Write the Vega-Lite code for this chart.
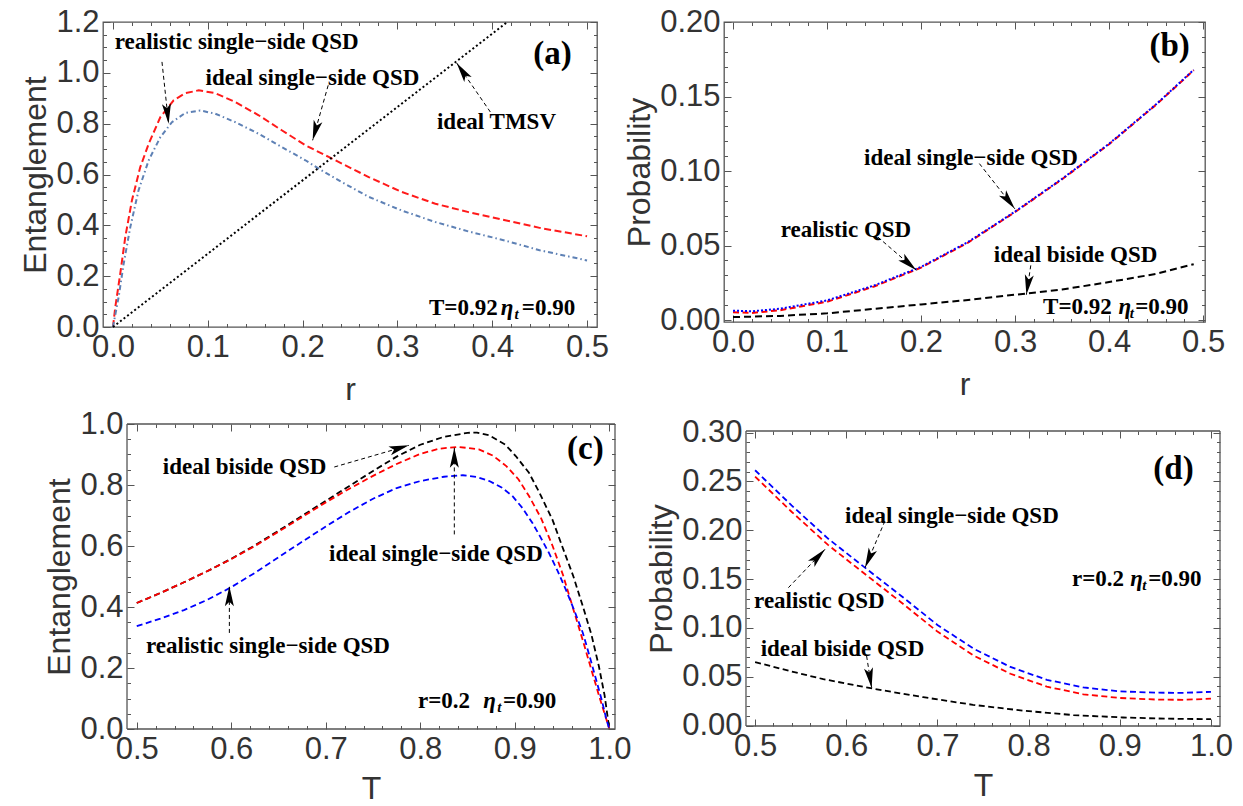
{
"$schema":"https://vega.github.io/schema/vega-lite/v6.json",
"padding":{"left":11,"top":0,"right":5,"bottom":0},
"config":{
 "view":{"stroke":"#555","strokeWidth":1.3},
 "axis":{"domain":false,"grid":false,"labelFlush":false,"labelOverlap":false,"tickColor":"#555","tickWidth":1,"labelFont":"Liberation Sans","labelFontSize":31,"labelColor":"#333","titleFont":"Liberation Sans","titleFontSize":32,"titleFontWeight":"normal","titleColor":"#333"},
 "text":{"font":"Liberation Serif","fontWeight":"bold","fontSize":23,"color":"#000"}
},
"datasets":{
 "a_lines":[
  {"x":0,"y":0,"s":"real"},{"x":0.0025,"y":0.079,"s":"real"},{"x":0.0077,"y":0.21,"s":"real"},{"x":0.013,"y":0.354,"s":"real"},{"x":0.02,"y":0.498,"s":"real"},{"x":0.0288,"y":0.629,"s":"real"},{"x":0.0377,"y":0.721,"s":"real"},{"x":0.05,"y":0.826,"s":"real"},{"x":0.064,"y":0.892,"s":"real"},{"x":0.0763,"y":0.92,"s":"real"},{"x":0.0904,"y":0.931,"s":"real"},{"x":0.108,"y":0.92,"s":"real"},{"x":0.129,"y":0.885,"s":"real"},{"x":0.1537,"y":0.833,"s":"real"},{"x":0.178,"y":0.774,"s":"real"},{"x":0.203,"y":0.715,"s":"real"},{"x":0.2275,"y":0.669,"s":"real"},{"x":0.2697,"y":0.59,"s":"real"},{"x":0.3048,"y":0.531,"s":"real"},{"x":0.34,"y":0.485,"s":"real"},{"x":0.375,"y":0.452,"s":"real"},{"x":0.4137,"y":0.42,"s":"real"},{"x":0.45,"y":0.39,"s":"real"},{"x":0.5,"y":0.357,"s":"real"},
  {"x":0,"y":0,"s":"ideal"},{"x":0.006,"y":0.118,"s":"ideal"},{"x":0.0113,"y":0.249,"s":"ideal"},{"x":0.0183,"y":0.393,"s":"ideal"},{"x":0.027,"y":0.538,"s":"ideal"},{"x":0.0377,"y":0.656,"s":"ideal"},{"x":0.05,"y":0.747,"s":"ideal"},{"x":0.0622,"y":0.806,"s":"ideal"},{"x":0.0763,"y":0.842,"s":"ideal"},{"x":0.092,"y":0.852,"s":"ideal"},{"x":0.108,"y":0.839,"s":"ideal"},{"x":0.129,"y":0.806,"s":"ideal"},{"x":0.1537,"y":0.76,"s":"ideal"},{"x":0.178,"y":0.708,"s":"ideal"},{"x":0.203,"y":0.656,"s":"ideal"},{"x":0.217,"y":0.623,"s":"ideal"},{"x":0.2415,"y":0.57,"s":"ideal"},{"x":0.2697,"y":0.512,"s":"ideal"},{"x":0.3048,"y":0.458,"s":"ideal"},{"x":0.34,"y":0.413,"s":"ideal"},{"x":0.375,"y":0.376,"s":"ideal"},{"x":0.4137,"y":0.34,"s":"ideal"},{"x":0.45,"y":0.302,"s":"ideal"},{"x":0.5,"y":0.262,"s":"ideal"},
  {"x":0,"y":0,"s":"tmsv"},{"x":0.2,"y":0.577,"s":"tmsv"},{"x":0.4159,"y":1.2,"s":"tmsv"}
 ],
 "b_lines":[
  {"x":0,"y":0.0052,"s":"real"},{"x":0.02,"y":0.0048,"s":"real"},{"x":0.05,"y":0.0066,"s":"real"},{"x":0.1,"y":0.0123,"s":"real"},{"x":0.15,"y":0.0225,"s":"real"},{"x":0.2,"y":0.0352,"s":"real"},{"x":0.25,"y":0.052,"s":"real"},{"x":0.3,"y":0.0725,"s":"real"},{"x":0.35,"y":0.0945,"s":"real"},{"x":0.4,"y":0.118,"s":"real"},{"x":0.45,"y":0.1445,"s":"real"},{"x":0.49,"y":0.1676,"s":"real"},
  {"x":0,"y":0.0063,"s":"ideal"},{"x":0.02,"y":0.0059,"s":"ideal"},{"x":0.05,"y":0.0076,"s":"ideal"},{"x":0.1,"y":0.0132,"s":"ideal"},{"x":0.15,"y":0.0232,"s":"ideal"},{"x":0.2,"y":0.0357,"s":"ideal"},{"x":0.25,"y":0.0524,"s":"ideal"},{"x":0.3,"y":0.0728,"s":"ideal"},{"x":0.35,"y":0.0948,"s":"ideal"},{"x":0.4,"y":0.1183,"s":"ideal"},{"x":0.45,"y":0.1448,"s":"ideal"},{"x":0.49,"y":0.1679,"s":"ideal"},
  {"x":0,"y":0.002,"s":"biside"},{"x":0.05,"y":0.0028,"s":"biside"},{"x":0.1,"y":0.0045,"s":"biside"},{"x":0.15,"y":0.0075,"s":"biside"},{"x":0.2,"y":0.0105,"s":"biside"},{"x":0.25,"y":0.0135,"s":"biside"},{"x":0.3,"y":0.017,"s":"biside"},{"x":0.35,"y":0.0205,"s":"biside"},{"x":0.4,"y":0.0255,"s":"biside"},{"x":0.45,"y":0.031,"s":"biside"},{"x":0.49,"y":0.0375,"s":"biside"}
 ],
 "c_lines":[
  {"x":0.5,"y":0.413,"s":"biside"},{"x":0.525,"y":0.446,"s":"biside"},{"x":0.55,"y":0.481,"s":"biside"},{"x":0.575,"y":0.518,"s":"biside"},{"x":0.6,"y":0.558,"s":"biside"},{"x":0.625,"y":0.602,"s":"biside"},{"x":0.65,"y":0.65,"s":"biside"},{"x":0.675,"y":0.699,"s":"biside"},{"x":0.7,"y":0.748,"s":"biside"},{"x":0.725,"y":0.797,"s":"biside"},{"x":0.75,"y":0.846,"s":"biside"},{"x":0.775,"y":0.893,"s":"biside"},{"x":0.8,"y":0.932,"s":"biside"},{"x":0.825,"y":0.958,"s":"biside"},{"x":0.85,"y":0.971,"s":"biside"},{"x":0.86,"y":0.972,"s":"biside"},{"x":0.873,"y":0.963,"s":"biside"},{"x":0.89,"y":0.932,"s":"biside"},{"x":0.901,"y":0.895,"s":"biside"},{"x":0.915,"y":0.84,"s":"biside"},{"x":0.926,"y":0.775,"s":"biside"},{"x":0.94,"y":0.685,"s":"biside"},{"x":0.95,"y":0.6,"s":"biside"},{"x":0.962,"y":0.5,"s":"biside"},{"x":0.972,"y":0.402,"s":"biside"},{"x":0.981,"y":0.31,"s":"biside"},{"x":0.989,"y":0.205,"s":"biside"},{"x":0.995,"y":0.11,"s":"biside"},{"x":1.0,"y":0.0,"s":"biside"},
  {"x":0.5,"y":0.413,"s":"ideal"},{"x":0.525,"y":0.446,"s":"ideal"},{"x":0.55,"y":0.481,"s":"ideal"},{"x":0.575,"y":0.518,"s":"ideal"},{"x":0.6,"y":0.557,"s":"ideal"},{"x":0.625,"y":0.6,"s":"ideal"},{"x":0.65,"y":0.647,"s":"ideal"},{"x":0.675,"y":0.695,"s":"ideal"},{"x":0.7,"y":0.743,"s":"ideal"},{"x":0.725,"y":0.788,"s":"ideal"},{"x":0.75,"y":0.83,"s":"ideal"},{"x":0.775,"y":0.869,"s":"ideal"},{"x":0.8,"y":0.902,"s":"ideal"},{"x":0.82,"y":0.919,"s":"ideal"},{"x":0.84,"y":0.925,"s":"ideal"},{"x":0.862,"y":0.917,"s":"ideal"},{"x":0.877,"y":0.896,"s":"ideal"},{"x":0.891,"y":0.862,"s":"ideal"},{"x":0.904,"y":0.818,"s":"ideal"},{"x":0.915,"y":0.764,"s":"ideal"},{"x":0.928,"y":0.69,"s":"ideal"},{"x":0.94,"y":0.6,"s":"ideal"},{"x":0.951,"y":0.505,"s":"ideal"},{"x":0.961,"y":0.402,"s":"ideal"},{"x":0.972,"y":0.29,"s":"ideal"},{"x":0.982,"y":0.184,"s":"ideal"},{"x":0.99,"y":0.1,"s":"ideal"},{"x":0.997,"y":0.03,"s":"ideal"},{"x":1.0,"y":0.0,"s":"ideal"},
  {"x":0.5,"y":0.337,"s":"real"},{"x":0.525,"y":0.362,"s":"real"},{"x":0.55,"y":0.39,"s":"real"},{"x":0.575,"y":0.424,"s":"real"},{"x":0.6,"y":0.465,"s":"real"},{"x":0.625,"y":0.512,"s":"real"},{"x":0.65,"y":0.563,"s":"real"},{"x":0.675,"y":0.614,"s":"real"},{"x":0.7,"y":0.664,"s":"real"},{"x":0.725,"y":0.712,"s":"real"},{"x":0.75,"y":0.755,"s":"real"},{"x":0.775,"y":0.79,"s":"real"},{"x":0.8,"y":0.813,"s":"real"},{"x":0.825,"y":0.827,"s":"real"},{"x":0.845,"y":0.832,"s":"real"},{"x":0.86,"y":0.826,"s":"real"},{"x":0.873,"y":0.813,"s":"real"},{"x":0.886,"y":0.792,"s":"real"},{"x":0.8974,"y":0.764,"s":"real"},{"x":0.908,"y":0.725,"s":"real"},{"x":0.9185,"y":0.676,"s":"real"},{"x":0.927,"y":0.63,"s":"real"},{"x":0.936,"y":0.578,"s":"real"},{"x":0.945,"y":0.52,"s":"real"},{"x":0.954,"y":0.457,"s":"real"},{"x":0.963,"y":0.388,"s":"real"},{"x":0.972,"y":0.315,"s":"real"},{"x":0.979,"y":0.24,"s":"real"},{"x":0.986,"y":0.162,"s":"real"},{"x":0.992,"y":0.095,"s":"real"},{"x":0.997,"y":0.03,"s":"real"},{"x":1.0,"y":0.0,"s":"real"}
 ],
 "d_lines":[
  {"x":0.5,"y":0.2615,"s":"ideal"},{"x":0.54,"y":0.2255,"s":"ideal"},{"x":0.58,"y":0.1915,"s":"ideal"},{"x":0.6205,"y":0.1617,"s":"ideal"},{"x":0.66,"y":0.133,"s":"ideal"},{"x":0.7,"y":0.103,"s":"ideal"},{"x":0.74,"y":0.0785,"s":"ideal"},{"x":0.78,"y":0.06,"s":"ideal"},{"x":0.82,"y":0.0468,"s":"ideal"},{"x":0.86,"y":0.039,"s":"ideal"},{"x":0.9,"y":0.035,"s":"ideal"},{"x":0.94,"y":0.0336,"s":"ideal"},{"x":0.97,"y":0.0335,"s":"ideal"},{"x":1.0,"y":0.0345,"s":"ideal"},
  {"x":0.5,"y":0.255,"s":"real"},{"x":0.54,"y":0.219,"s":"real"},{"x":0.58,"y":0.185,"s":"real"},{"x":0.6205,"y":0.1552,"s":"real"},{"x":0.66,"y":0.1263,"s":"real"},{"x":0.7,"y":0.0962,"s":"real"},{"x":0.74,"y":0.0715,"s":"real"},{"x":0.78,"y":0.053,"s":"real"},{"x":0.82,"y":0.0398,"s":"real"},{"x":0.86,"y":0.032,"s":"real"},{"x":0.9,"y":0.0282,"s":"real"},{"x":0.94,"y":0.0266,"s":"real"},{"x":0.97,"y":0.0263,"s":"real"},{"x":1.0,"y":0.0275,"s":"real"},
  {"x":0.5,"y":0.065,"s":"biside"},{"x":0.538,"y":0.0558,"s":"biside"},{"x":0.5748,"y":0.0475,"s":"biside"},{"x":0.6296,"y":0.0377,"s":"biside"},{"x":0.6844,"y":0.029,"s":"biside"},{"x":0.739,"y":0.0212,"s":"biside"},{"x":0.794,"y":0.0152,"s":"biside"},{"x":0.849,"y":0.0107,"s":"biside"},{"x":0.9035,"y":0.0082,"s":"biside"},{"x":0.95,"y":0.007,"s":"biside"},{"x":1.0,"y":0.0065,"s":"biside"}
 ],
 "a_arrows":[{"x":0.0517,"y":1.043,"x2":0.0587,"y2":0.80},{"x":0.227,"y":0.951,"x2":0.2106,"y2":0.7345},{"x":0.398,"y":0.846,"x2":0.3625,"y2":1.0386}],
 "b_arrows":[{"x":0.262,"y":0.105,"x2":0.2997,"y2":0.0747},{"x":0.154,"y":0.0557,"x2":0.195,"y2":0.0334},{"x":0.3167,"y":0.0367,"x2":0.312,"y2":0.017}],
 "c_arrows":[{"x":0.709,"y":0.859,"x2":0.788,"y2":0.93},{"x":0.836,"y":0.638,"x2":0.836,"y2":0.922},{"x":0.598,"y":0.315,"x2":0.598,"y2":0.468}],
 "d_arrows":[{"x":0.6424,"y":0.2095,"x2":0.6205,"y2":0.1617},{"x":0.5365,"y":0.1412,"x2":0.5767,"y2":0.1805},{"x":0.6223,"y":0.0712,"x2":0.6278,"y2":0.0387}],
 "c_frame":[{"x":0.4897,"y":0,"x2":1.006,"y2":0},{"x":0.4897,"y":1.0,"x2":1.006,"y2":1.0},{"x":0.4897,"y":0,"x2":0.4897,"y2":1.0},{"x":1.006,"y":0,"x2":1.006,"y2":1.0}],
 "d_frame":[{"x":0.49,"y":-0.0005,"x2":1.0099,"y2":-0.0005},{"x":0.49,"y":0.3017,"x2":1.0099,"y2":0.3017},{"x":0.49,"y":-0.0005,"x2":0.49,"y2":0.3017},{"x":1.0099,"y":-0.0005,"x2":1.0099,"y2":0.3017}]
},
"resolve":{"scale":{"color":"independent","strokeDash":"independent"}},
"columns":2,
"align":"none",
"spacing":{"row":2,"column":-33},
"concat":[
   {"width":494,"height":305,
    "resolve":{"axis":{"x":"independent","y":"independent"}},
    "layer":[
     {"data":{"name":"a_lines"},"mark":{"type":"line","strokeWidth":2},
      "encoding":{
       "x":{"field":"x","type":"quantitative","scale":{"domain":[-0.0105,0.5105],"nice":false,"zero":false},"axis":{"orient":"bottom","values":[0,0.1,0.2,0.3,0.4,0.5],"format":".1f","ticks":false,"tickSize":0,"labelPadding":5,"title":"r","titlePadding":12}},
       "y":{"field":"y","type":"quantitative","scale":{"domain":[0,1.2],"nice":false,"zero":false},"axis":{"orient":"left","values":[0,0.2,0.4,0.6,0.8,1.0,1.2],"format":".1f","ticks":false,"tickSize":0,"labelPadding":4,"title":"Entanglement","titlePadding":3.5}},
       "color":{"field":"s","type":"nominal","scale":{"domain":["real","ideal","tmsv"],"range":["#ff1a1a","#5e81b5","#000000"]},"legend":null},
       "strokeDash":{"field":"s","type":"nominal","scale":{"domain":["real","ideal","tmsv"],"range":[[7,3.5],[5,3,1.5,3],[2,2.5]]},"legend":null}}},
     {"data":{"name":"a_arrows"},"mark":{"type":"rule","color":"#000","strokeWidth":1,"strokeDash":[4,3]},
      "encoding":{
       "x":{"field":"x","type":"quantitative","scale":{"domain":[-0.0105,0.5105],"nice":false,"zero":false},"axis":{"orient":"bottom","values":[0,0.1,0.2,0.3,0.4,0.5],"labels":false,"tickSize":-7,"title":null}},
       "x2":{"field":"x2"},
       "y":{"field":"y","type":"quantitative","scale":{"domain":[0,1.2],"nice":false,"zero":false},"axis":{"orient":"left","values":[0,0.2,0.4,0.6,0.8,1.0,1.2],"labels":false,"tickSize":-7,"title":null}},
       "y2":{"field":"y2"}}},
     {"data":{"values":[{"x":0.0587,"y":0.80}]},"mark":{"type":"point","shape":"M0,0L0.45,2L0,1.55L-0.45,2Z","size":400,"filled":true,"color":"#000","opacity":1,"angle":173.8},
      "encoding":{
       "x":{"field":"x","type":"quantitative","scale":{"domain":[-0.0105,0.5105],"nice":false,"zero":false},"axis":{"orient":"bottom","values":[0.02,0.04,0.06,0.08,0.12,0.14,0.16,0.18,0.22,0.24,0.26,0.28,0.32,0.34,0.36,0.38,0.42,0.44,0.46,0.48],"labels":false,"tickSize":-3.5,"title":null}},
       "y":{"field":"y","type":"quantitative","scale":{"domain":[0,1.2],"nice":false,"zero":false},"axis":{"orient":"left","values":[0.05,0.1,0.15,0.25,0.3,0.35,0.45,0.5,0.55,0.65,0.7,0.75,0.85,0.9,0.95,1.05,1.1,1.15],"labels":false,"tickSize":-3.5,"title":".","titleColor":"#ffffff","titleFontSize":10,"titlePadding":80}}}},
     {"data":{"values":[{"x":0.2106,"y":0.7345}]},"mark":{"type":"point","shape":"M0,0L0.45,2L0,1.55L-0.45,2Z","size":400,"filled":true,"color":"#000","opacity":1,"angle":195.7},
      "encoding":{
       "x":{"field":"x","type":"quantitative","scale":{"domain":[-0.0105,0.5105],"nice":false,"zero":false},"axis":{"orient":"top","values":[0,0.1,0.2,0.3,0.4,0.5],"labels":false,"tickSize":-7,"title":null}},
       "y":{"field":"y","type":"quantitative","scale":{"domain":[0,1.2],"nice":false,"zero":false},"axis":{"orient":"right","values":[0,0.2,0.4,0.6,0.8,1.0,1.2],"labels":false,"tickSize":-7,"title":null}}}},
     {"data":{"values":[{"x":0.3625,"y":1.0386}]},"mark":{"type":"point","shape":"M0,0L0.45,2L0,1.55L-0.45,2Z","size":400,"filled":true,"color":"#000","opacity":1,"angle":325.5},
      "encoding":{
       "x":{"field":"x","type":"quantitative","scale":{"domain":[-0.0105,0.5105],"nice":false,"zero":false},"axis":{"orient":"top","values":[0.02,0.04,0.06,0.08,0.12,0.14,0.16,0.18,0.22,0.24,0.26,0.28,0.32,0.34,0.36,0.38,0.42,0.44,0.46,0.48],"labels":false,"tickSize":-3.5,"title":null}},
       "y":{"field":"y","type":"quantitative","scale":{"domain":[0,1.2],"nice":false,"zero":false},"axis":{"orient":"right","values":[0.05,0.1,0.15,0.25,0.3,0.35,0.45,0.5,0.55,0.65,0.7,0.75,0.85,0.9,0.95,1.05,1.1,1.15],"labels":false,"tickSize":-3.5,"title":".","titleColor":"#ffffff","titleFontSize":10,"titlePadding":36}}}},
     {"data":{"values":[{"x":0.0018,"y":1.0948,"t":"realistic single−side QSD"},{"x":0.0977,"y":0.951,"t":"ideal single−side QSD"},{"x":0.3417,"y":0.78,"t":"ideal TMSV"},{"x":0.3333,"y":0.046,"t":"T=0.92"},{"x":0.4312,"y":0.046,"t":"=0.90"}]},
      "mark":{"type":"text","align":"left","baseline":"alphabetic"},
      "encoding":{"x":{"field":"x","type":"quantitative","scale":{"domain":[-0.0105,0.5105],"nice":false,"zero":false},"axis":null},"y":{"field":"y","type":"quantitative","scale":{"domain":[0,1.2],"nice":false,"zero":false},"axis":null},"text":{"field":"t"}}},
     {"data":{"values":[{"x":0.409,"y":0.046}]},"mark":{"type":"text","align":"left","baseline":"alphabetic","fontStyle":"italic","text":"η"},
      "encoding":{"x":{"field":"x","type":"quantitative","scale":{"domain":[-0.0105,0.5105],"nice":false,"zero":false},"axis":null},"y":{"field":"y","type":"quantitative","scale":{"domain":[0,1.2],"nice":false,"zero":false},"axis":null}}},
     {"data":{"values":[{"x":0.4235,"y":0.0303}]},"mark":{"type":"text","align":"left","baseline":"alphabetic","fontStyle":"italic","fontSize":15,"text":"t"},
      "encoding":{"x":{"field":"x","type":"quantitative","scale":{"domain":[-0.0105,0.5105],"nice":false,"zero":false},"axis":null},"y":{"field":"y","type":"quantitative","scale":{"domain":[0,1.2],"nice":false,"zero":false},"axis":null}}},
     {"data":{"values":[{"x":0.4635,"y":1.035}]},"mark":{"type":"text","align":"center","baseline":"alphabetic","fontSize":33,"text":"(a)"},
      "encoding":{"x":{"field":"x","type":"quantitative","scale":{"domain":[-0.0105,0.5105],"nice":false,"zero":false},"axis":null},"y":{"field":"y","type":"quantitative","scale":{"domain":[0,1.2],"nice":false,"zero":false},"axis":null}}}
    ]},
   {"width":481,"height":300,
    "resolve":{"axis":{"x":"independent","y":"independent"}},
    "layer":[
     {"data":{"name":"b_lines"},"mark":{"type":"line","strokeWidth":2},
      "encoding":{
       "x":{"field":"x","type":"quantitative","scale":{"domain":[-0.0096,0.502],"nice":false,"zero":false},"axis":{"orient":"bottom","values":[0,0.1,0.2,0.3,0.4,0.5],"format":".1f","ticks":false,"tickSize":0,"labelPadding":5,"title":"r","titlePadding":12}},
       "y":{"field":"y","type":"quantitative","scale":{"domain":[-0.0013,0.2],"nice":false,"zero":false},"axis":{"orient":"left","values":[0,0.05,0.1,0.15,0.2],"format":".2f","ticks":false,"tickSize":0,"labelPadding":4,"title":"Probability","titlePadding":3.5}},
       "color":{"field":"s","type":"nominal","scale":{"domain":["real","ideal","biside"],"range":["#ff0000","#0000ff","#000000"]},"legend":null},
       "strokeDash":{"field":"s","type":"nominal","scale":{"domain":["real","ideal","biside"],"range":[[6,3.5],[2,2],[7,4]]},"legend":null}}},
     {"data":{"name":"b_arrows"},"mark":{"type":"rule","color":"#000","strokeWidth":1,"strokeDash":[4,3]},
      "encoding":{
       "x":{"field":"x","type":"quantitative","scale":{"domain":[-0.0096,0.502],"nice":false,"zero":false},"axis":{"orient":"bottom","values":[0,0.1,0.2,0.3,0.4,0.5],"labels":false,"tickSize":-7,"title":null}},
       "x2":{"field":"x2"},
       "y":{"field":"y","type":"quantitative","scale":{"domain":[-0.0013,0.2],"nice":false,"zero":false},"axis":{"orient":"left","values":[0,0.05,0.1,0.15,0.2],"labels":false,"tickSize":-7,"title":null}},
       "y2":{"field":"y2"}}},
     {"data":{"values":[{"x":0.2997,"y":0.0747}]},"mark":{"type":"point","shape":"M0,0L0.45,2L0,1.55L-0.45,2Z","size":400,"filled":true,"color":"#000","opacity":1,"angle":142.1},
      "encoding":{
       "x":{"field":"x","type":"quantitative","scale":{"domain":[-0.0096,0.502],"nice":false,"zero":false},"axis":{"orient":"bottom","values":[0.02,0.04,0.06,0.08,0.12,0.14,0.16,0.18,0.22,0.24,0.26,0.28,0.32,0.34,0.36,0.38,0.42,0.44,0.46,0.48],"labels":false,"tickSize":-3.5,"title":null}},
       "y":{"field":"y","type":"quantitative","scale":{"domain":[-0.0013,0.2],"nice":false,"zero":false},"axis":{"orient":"left","values":[0.01,0.02,0.03,0.04,0.06,0.07,0.08,0.09,0.11,0.12,0.13,0.14,0.16,0.17,0.18,0.19],"labels":false,"tickSize":-3.5,"title":".","titleColor":"#ffffff","titleFontSize":10,"titlePadding":100}}}},
     {"data":{"values":[{"x":0.195,"y":0.0334}]},"mark":{"type":"point","shape":"M0,0L0.45,2L0,1.55L-0.45,2Z","size":400,"filled":true,"color":"#000","opacity":1,"angle":131},
      "encoding":{
       "x":{"field":"x","type":"quantitative","scale":{"domain":[-0.0096,0.502],"nice":false,"zero":false},"axis":{"orient":"top","values":[0,0.1,0.2,0.3,0.4,0.5],"labels":false,"tickSize":-7,"title":".","titleColor":"#ffffff","titleFontSize":10,"titlePadding":10.5}},
       "y":{"field":"y","type":"quantitative","scale":{"domain":[-0.0013,0.2],"nice":false,"zero":false},"axis":{"orient":"right","values":[0,0.05,0.1,0.15,0.2],"labels":false,"tickSize":-7,"title":null}}}},
     {"data":{"values":[{"x":0.312,"y":0.017}]},"mark":{"type":"point","shape":"M0,0L0.45,2L0,1.55L-0.45,2Z","size":400,"filled":true,"color":"#000","opacity":1,"angle":188.5},
      "encoding":{
       "x":{"field":"x","type":"quantitative","scale":{"domain":[-0.0096,0.502],"nice":false,"zero":false},"axis":{"orient":"top","values":[0.02,0.04,0.06,0.08,0.12,0.14,0.16,0.18,0.22,0.24,0.26,0.28,0.32,0.34,0.36,0.38,0.42,0.44,0.46,0.48],"labels":false,"tickSize":-3.5,"title":null}},
       "y":{"field":"y","type":"quantitative","scale":{"domain":[-0.0013,0.2],"nice":false,"zero":false},"axis":{"orient":"right","values":[0.01,0.02,0.03,0.04,0.06,0.07,0.08,0.09,0.11,0.12,0.13,0.14,0.16,0.17,0.18,0.19],"labels":false,"tickSize":-3.5,"title":null}}}},
     {"data":{"values":[{"x":0.1394,"y":0.1038,"t":"ideal single−side QSD"},{"x":0.0507,"y":0.0557,"t":"realistic QSD"},{"x":0.2773,"y":0.0389,"t":"ideal biside QSD"},{"x":0.3298,"y":0.0042,"t":"T=0.92"},{"x":0.4277,"y":0.0042,"t":"=0.90"}]},
      "mark":{"type":"text","align":"left","baseline":"alphabetic"},
      "encoding":{"x":{"field":"x","type":"quantitative","scale":{"domain":[-0.0096,0.502],"nice":false,"zero":false},"axis":null},"y":{"field":"y","type":"quantitative","scale":{"domain":[-0.0013,0.2],"nice":false,"zero":false},"axis":null},"text":{"field":"t"}}},
     {"data":{"values":[{"x":0.41,"y":0.0042}]},"mark":{"type":"text","align":"left","baseline":"alphabetic","fontStyle":"italic","text":"η"},
      "encoding":{"x":{"field":"x","type":"quantitative","scale":{"domain":[-0.0096,0.502],"nice":false,"zero":false},"axis":null},"y":{"field":"y","type":"quantitative","scale":{"domain":[-0.0013,0.2],"nice":false,"zero":false},"axis":null}}},
     {"data":{"values":[{"x":0.4219,"y":0.0015}]},"mark":{"type":"text","align":"left","baseline":"alphabetic","fontStyle":"italic","fontSize":15,"text":"t"},
      "encoding":{"x":{"field":"x","type":"quantitative","scale":{"domain":[-0.0096,0.502],"nice":false,"zero":false},"axis":null},"y":{"field":"y","type":"quantitative","scale":{"domain":[-0.0013,0.2],"nice":false,"zero":false},"axis":null}}},
     {"data":{"values":[{"x":0.4644,"y":0.1772}]},"mark":{"type":"text","align":"center","baseline":"alphabetic","fontSize":33,"text":"(b)"},
      "encoding":{"x":{"field":"x","type":"quantitative","scale":{"domain":[-0.0096,0.502],"nice":false,"zero":false},"axis":null},"y":{"field":"y","type":"quantitative","scale":{"domain":[-0.0013,0.2],"nice":false,"zero":false},"axis":null}}}
    ]},
   {"width":512,"height":305,"view":{"stroke":null},
    "resolve":{"axis":{"x":"independent","y":"independent"}},
    "layer":[
     {"data":{"name":"c_lines"},"mark":{"type":"line","strokeWidth":1.8},
      "encoding":{
       "x":{"field":"x","type":"quantitative","scale":{"domain":[0.4643,1.006],"nice":false,"zero":false},"axis":{"orient":"bottom","values":[0.5,0.6,0.7,0.8,0.9,1.0],"format":".1f","ticks":false,"tickSize":0,"labelPadding":5,"title":"T","titlePadding":9,"titleX":268}},
       "y":{"field":"y","type":"quantitative","scale":{"domain":[0,1.0],"nice":false,"zero":false},"axis":{"orient":"left","offset":-24,"values":[0,0.2,0.4,0.6,0.8,1.0],"format":".1f","ticks":false,"tickSize":0,"labelPadding":4,"title":"Entanglement","titlePadding":3.5}},
       "color":{"field":"s","type":"nominal","scale":{"domain":["biside","ideal","real"],"range":["#000000","#ff0000","#0000ff"]},"legend":null},
       "strokeDash":{"field":"s","type":"nominal","scale":{"domain":["biside","ideal","real"],"range":[[6,3.5],[6,3.5],[6,3.5]]},"legend":null}}},
     {"data":{"name":"c_frame"},"mark":{"type":"rule","color":"#555","strokeWidth":1.3},
      "encoding":{
       "x":{"field":"x","type":"quantitative","scale":{"domain":[0.4643,1.006],"nice":false,"zero":false},"axis":null},
       "x2":{"field":"x2"},
       "y":{"field":"y","type":"quantitative","scale":{"domain":[0,1.0],"nice":false,"zero":false},"axis":{"orient":"left","labels":false,"ticks":false,"title":".","titleColor":"#ffffff","titleFontSize":10,"titlePadding":80}},
       "y2":{"field":"y2"}}},
     {"data":{"name":"c_arrows"},"mark":{"type":"rule","color":"#000","strokeWidth":1,"strokeDash":[4,3]},
      "encoding":{
       "x":{"field":"x","type":"quantitative","scale":{"domain":[0.4643,1.006],"nice":false,"zero":false},"axis":{"orient":"bottom","values":[0.5,0.6,0.7,0.8,0.9,1.0],"labels":false,"tickSize":-7,"title":null}},
       "x2":{"field":"x2"},
       "y":{"field":"y","type":"quantitative","scale":{"domain":[0,1.0],"nice":false,"zero":false},"axis":{"orient":"left","offset":-24,"values":[0,0.2,0.4,0.6,0.8,1.0],"labels":false,"tickSize":-7,"title":null}},
       "y2":{"field":"y2"}}},
     {"data":{"values":[{"x":0.788,"y":0.93}]},"mark":{"type":"point","shape":"M0,0L0.45,2L0,1.55L-0.45,2Z","size":400,"filled":true,"color":"#000","opacity":1,"angle":73.9},
      "encoding":{
       "x":{"field":"x","type":"quantitative","scale":{"domain":[0.4643,1.006],"nice":false,"zero":false},"axis":{"orient":"bottom","values":[0.52,0.54,0.56,0.58,0.62,0.64,0.66,0.68,0.72,0.74,0.76,0.78,0.82,0.84,0.86,0.88,0.92,0.94,0.96,0.98],"labels":false,"tickSize":-3.5,"title":null}},
       "y":{"field":"y","type":"quantitative","scale":{"domain":[0,1.0],"nice":false,"zero":false},"axis":{"orient":"left","offset":-24,"values":[0.05,0.1,0.15,0.25,0.3,0.35,0.45,0.5,0.55,0.65,0.7,0.75,0.85,0.9,0.95],"labels":false,"tickSize":-3.5,"title":null}}}},
     {"data":{"values":[{"x":0.836,"y":0.922}]},"mark":{"type":"point","shape":"M0,0L0.45,2L0,1.55L-0.45,2Z","size":400,"filled":true,"color":"#000","opacity":1,"angle":0},
      "encoding":{
       "x":{"field":"x","type":"quantitative","scale":{"domain":[0.4643,1.006],"nice":false,"zero":false},"axis":{"orient":"top","values":[0.5,0.6,0.7,0.8,0.9,1.0],"labels":false,"tickSize":-7,"title":null}},
       "y":{"field":"y","type":"quantitative","scale":{"domain":[0,1.0],"nice":false,"zero":false},"axis":{"orient":"right","values":[0,0.2,0.4,0.6,0.8,1.0],"labels":false,"tickSize":-7,"title":null}}}},
     {"data":{"values":[{"x":0.598,"y":0.468}]},"mark":{"type":"point","shape":"M0,0L0.45,2L0,1.55L-0.45,2Z","size":400,"filled":true,"color":"#000","opacity":1,"angle":0},
      "encoding":{
       "x":{"field":"x","type":"quantitative","scale":{"domain":[0.4643,1.006],"nice":false,"zero":false},"axis":{"orient":"top","values":[0.52,0.54,0.56,0.58,0.62,0.64,0.66,0.68,0.72,0.74,0.76,0.78,0.82,0.84,0.86,0.88,0.92,0.94,0.96,0.98],"labels":false,"tickSize":-3.5,"title":null}},
       "y":{"field":"y","type":"quantitative","scale":{"domain":[0,1.0],"nice":false,"zero":false},"axis":{"orient":"right","values":[0.05,0.1,0.15,0.25,0.3,0.35,0.45,0.5,0.55,0.65,0.7,0.75,0.85,0.9,0.95],"labels":false,"tickSize":-3.5,"title":".","titleColor":"#ffffff","titleFontSize":10,"titlePadding":18}}}},
     {"data":{"values":[{"x":0.5275,"y":0.835,"t":"ideal biside QSD"},{"x":0.7034,"y":0.55,"t":"ideal single−side QSD"},{"x":0.5098,"y":0.249,"t":"realistic single−side QSD"},{"x":0.7976,"y":0.0686,"t":"r=0.2"},{"x":0.8875,"y":0.0686,"t":"=0.90"}]},
      "mark":{"type":"text","align":"left","baseline":"alphabetic"},
      "encoding":{"x":{"field":"x","type":"quantitative","scale":{"domain":[0.4643,1.006],"nice":false,"zero":false},"axis":null},"y":{"field":"y","type":"quantitative","scale":{"domain":[0,1.0],"nice":false,"zero":false},"axis":null},"text":{"field":"t"}}},
     {"data":{"values":[{"x":0.8666,"y":0.0686}]},"mark":{"type":"text","align":"left","baseline":"alphabetic","fontStyle":"italic","text":"η"},
      "encoding":{"x":{"field":"x","type":"quantitative","scale":{"domain":[0.4643,1.006],"nice":false,"zero":false},"axis":null},"y":{"field":"y","type":"quantitative","scale":{"domain":[0,1.0],"nice":false,"zero":false},"axis":null}}},
     {"data":{"values":[{"x":0.8813,"y":0.0555}]},"mark":{"type":"text","align":"left","baseline":"alphabetic","fontStyle":"italic","fontSize":15,"text":"t"},
      "encoding":{"x":{"field":"x","type":"quantitative","scale":{"domain":[0.4643,1.006],"nice":false,"zero":false},"axis":null},"y":{"field":"y","type":"quantitative","scale":{"domain":[0,1.0],"nice":false,"zero":false},"axis":null}}},
     {"data":{"values":[{"x":0.9746,"y":0.884}]},"mark":{"type":"text","align":"center","baseline":"alphabetic","fontSize":33,"text":"(c)"},
      "encoding":{"x":{"field":"x","type":"quantitative","scale":{"domain":[0.4643,1.006],"nice":false,"zero":false},"axis":null},"y":{"field":"y","type":"quantitative","scale":{"domain":[0,1.0],"nice":false,"zero":false},"axis":null}}}
    ]},
   {"width":498,"height":295,"view":{"stroke":null},
    "resolve":{"axis":{"x":"independent","y":"independent"}},
    "layer":[
     {"data":{"name":"d_lines"},"mark":{"type":"line","strokeWidth":1.8},
      "encoding":{
       "x":{"field":"x","type":"quantitative","scale":{"domain":[0.4637,1.0099],"nice":false,"zero":false},"axis":{"orient":"bottom","values":[0.5,0.6,0.7,0.8,0.9,1.0],"format":".1f","ticks":false,"tickSize":0,"labelPadding":5,"title":"T","titlePadding":9,"titleX":261}},
       "y":{"field":"y","type":"quantitative","scale":{"domain":[-0.0005,0.3017],"nice":false,"zero":false},"axis":{"orient":"left","offset":-24,"values":[0,0.05,0.1,0.15,0.2,0.25,0.3],"format":".2f","ticks":false,"tickSize":0,"labelPadding":4,"title":"Probability","titlePadding":3.5}},
       "color":{"field":"s","type":"nominal","scale":{"domain":["ideal","real","biside"],"range":["#0000ff","#ff0000","#000000"]},"legend":null},
       "strokeDash":{"field":"s","type":"nominal","scale":{"domain":["ideal","real","biside"],"range":[[6,3.5],[6,3.5],[6,3.5]]},"legend":null}}},
     {"data":{"name":"d_frame"},"mark":{"type":"rule","color":"#555","strokeWidth":1.3},
      "encoding":{
       "x":{"field":"x","type":"quantitative","scale":{"domain":[0.4637,1.0099],"nice":false,"zero":false},"axis":null},
       "x2":{"field":"x2"},
       "y":{"field":"y","type":"quantitative","scale":{"domain":[-0.0005,0.3017],"nice":false,"zero":false},"axis":{"orient":"left","labels":false,"ticks":false,"title":".","titleColor":"#ffffff","titleFontSize":10,"titlePadding":100}},
       "y2":{"field":"y2"}}},
     {"data":{"name":"d_arrows"},"mark":{"type":"rule","color":"#000","strokeWidth":1,"strokeDash":[4,3]},
      "encoding":{
       "x":{"field":"x","type":"quantitative","scale":{"domain":[0.4637,1.0099],"nice":false,"zero":false},"axis":{"orient":"bottom","values":[0.5,0.6,0.7,0.8,0.9,1.0],"labels":false,"tickSize":-7,"title":null}},
       "x2":{"field":"x2"},
       "y":{"field":"y","type":"quantitative","scale":{"domain":[-0.0005,0.3017],"nice":false,"zero":false},"axis":{"orient":"left","offset":-24,"values":[0,0.05,0.1,0.15,0.2,0.25,0.3],"labels":false,"tickSize":-7,"title":null}},
       "y2":{"field":"y2"}}},
     {"data":{"values":[{"x":0.6205,"y":0.1617}]},"mark":{"type":"point","shape":"M0,0L0.45,2L0,1.55L-0.45,2Z","size":400,"filled":true,"color":"#000","opacity":1,"angle":203.2},
      "encoding":{
       "x":{"field":"x","type":"quantitative","scale":{"domain":[0.4637,1.0099],"nice":false,"zero":false},"axis":{"orient":"bottom","values":[0.52,0.54,0.56,0.58,0.62,0.64,0.66,0.68,0.72,0.74,0.76,0.78,0.82,0.84,0.86,0.88,0.92,0.94,0.96,0.98],"labels":false,"tickSize":-3.5,"title":null}},
       "y":{"field":"y","type":"quantitative","scale":{"domain":[-0.0005,0.3017],"nice":false,"zero":false},"axis":{"orient":"left","offset":-24,"values":[0.01,0.02,0.03,0.04,0.06,0.07,0.08,0.09,0.11,0.12,0.13,0.14,0.16,0.17,0.18,0.19,0.21,0.22,0.23,0.24,0.26,0.27,0.28,0.29],"labels":false,"tickSize":-3.5,"title":null}}}},
     {"data":{"values":[{"x":0.5767,"y":0.1805}]},"mark":{"type":"point","shape":"M0,0L0.45,2L0,1.55L-0.45,2Z","size":400,"filled":true,"color":"#000","opacity":1,"angle":43.7},
      "encoding":{
       "x":{"field":"x","type":"quantitative","scale":{"domain":[0.4637,1.0099],"nice":false,"zero":false},"axis":{"orient":"top","values":[0.5,0.6,0.7,0.8,0.9,1.0],"labels":false,"tickSize":-7,"title":".","titleColor":"#ffffff","titleFontSize":10,"titlePadding":12.5}},
       "y":{"field":"y","type":"quantitative","scale":{"domain":[-0.0005,0.3017],"nice":false,"zero":false},"axis":{"orient":"right","values":[0,0.05,0.1,0.15,0.2,0.25,0.3],"labels":false,"tickSize":-7,"title":null}}}},
     {"data":{"values":[{"x":0.6278,"y":0.0387}]},"mark":{"type":"point","shape":"M0,0L0.45,2L0,1.55L-0.45,2Z","size":400,"filled":true,"color":"#000","opacity":1,"angle":171},
      "encoding":{
       "x":{"field":"x","type":"quantitative","scale":{"domain":[0.4637,1.0099],"nice":false,"zero":false},"axis":{"orient":"top","values":[0.52,0.54,0.56,0.58,0.62,0.64,0.66,0.68,0.72,0.74,0.76,0.78,0.82,0.84,0.86,0.88,0.92,0.94,0.96,0.98],"labels":false,"tickSize":-3.5,"title":null}},
       "y":{"field":"y","type":"quantitative","scale":{"domain":[-0.0005,0.3017],"nice":false,"zero":false},"axis":{"orient":"right","values":[0.01,0.02,0.03,0.04,0.06,0.07,0.08,0.09,0.11,0.12,0.13,0.14,0.16,0.17,0.18,0.19,0.21,0.22,0.23,0.24,0.26,0.27,0.28,0.29],"labels":false,"tickSize":-3.5,"title":null}}}},
     {"data":{"values":[{"x":0.5986,"y":0.2078,"t":"ideal single−side QSD"},{"x":0.4989,"y":0.1207,"t":"realistic QSD"},{"x":0.5061,"y":0.0712,"t":"ideal biside QSD"},{"x":0.8475,"y":0.143,"t":"r=0.2"},{"x":0.9312,"y":0.143,"t":"=0.90"}]},
      "mark":{"type":"text","align":"left","baseline":"alphabetic"},
      "encoding":{"x":{"field":"x","type":"quantitative","scale":{"domain":[0.4637,1.0099],"nice":false,"zero":false},"axis":null},"y":{"field":"y","type":"quantitative","scale":{"domain":[-0.0005,0.3017],"nice":false,"zero":false},"axis":null},"text":{"field":"t"}}},
     {"data":{"values":[{"x":0.9115,"y":0.143}]},"mark":{"type":"text","align":"left","baseline":"alphabetic","fontStyle":"italic","text":"η"},
      "encoding":{"x":{"field":"x","type":"quantitative","scale":{"domain":[0.4637,1.0099],"nice":false,"zero":false},"axis":null},"y":{"field":"y","type":"quantitative","scale":{"domain":[-0.0005,0.3017],"nice":false,"zero":false},"axis":null}}},
     {"data":{"values":[{"x":0.9247,"y":0.1389}]},"mark":{"type":"text","align":"left","baseline":"alphabetic","fontStyle":"italic","fontSize":15,"text":"t"},
      "encoding":{"x":{"field":"x","type":"quantitative","scale":{"domain":[0.4637,1.0099],"nice":false,"zero":false},"axis":null},"y":{"field":"y","type":"quantitative","scale":{"domain":[-0.0005,0.3017],"nice":false,"zero":false},"axis":null}}},
     {"data":{"values":[{"x":0.9589,"y":0.2521}]},"mark":{"type":"text","align":"center","baseline":"alphabetic","fontSize":33,"text":"(d)"},
      "encoding":{"x":{"field":"x","type":"quantitative","scale":{"domain":[0.4637,1.0099],"nice":false,"zero":false},"axis":null},"y":{"field":"y","type":"quantitative","scale":{"domain":[-0.0005,0.3017],"nice":false,"zero":false},"axis":null}}}
    ]}
]
}
